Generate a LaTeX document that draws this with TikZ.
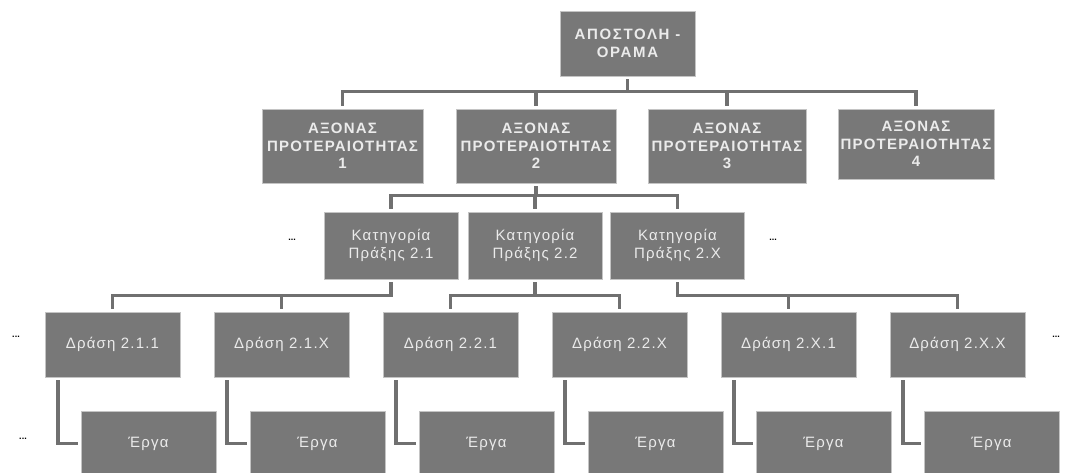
\documentclass[tikz,border=0pt]{standalone}
\usepackage{fontspec}
\setmainfont{Liberation Sans}
\newfontfamily\regfont[LetterSpace=8]{Liberation Sans}
\newfontfamily\axfont[LetterSpace=8]{Liberation Sans Bold}
\newfontfamily\topfont[LetterSpace=11]{Liberation Sans Bold}
\definecolor{boxfill}{HTML}{787878}
\definecolor{boxline}{HTML}{C4C4C4}
\definecolor{conn}{HTML}{707070}
\definecolor{txt}{HTML}{EBEBEB}
\begin{document}
\begin{tikzpicture}[x=1pt,y=-1pt,
  gbox/.style={draw=boxline,line width=0.6pt,fill=boxfill,text=txt,inner sep=0pt,align=center,font=\regfont\fontsize{15}{17.5}\selectfont},
  topbox/.style={gbox,font=\topfont\fontsize{15}{18}\selectfont},
  axbox/.style={gbox,font=\axfont\fontsize{15}{17.5}\selectfont},
  catbox/.style={gbox,minimum width=134pt,minimum height=67pt},
  actbox/.style={gbox,minimum width=135pt,minimum height=65pt},
  projbox/.style={gbox,minimum width=135pt,minimum height=65pt},
  link/.style={draw=conn,line width=3.6pt,shorten <=3pt,shorten >=3pt},
  dots/.style={font=\fontsize{9}{9}\selectfont\bfseries,text=black,inner sep=0pt}]
\useasboundingbox (0,0) rectangle (1081,472);
\fill[white] (0,0) rectangle (1081,472);
% level 1
\node[topbox,minimum width=135pt,minimum height=65pt] (top) at (627.5,43.5) {ΑΠΟΣΤΟΛΗ -\\ΟΡΑΜΑ};
% level 2
\node[axbox,minimum width=161pt,minimum height=74pt] (a1) at (342.5,146) {ΑΞΟΝΑΣ\\ΠΡΟΤΕΡΑΙΟΤΗΤΑΣ\\1};
\node[axbox,minimum width=160pt,minimum height=74pt] (a2) at (536,146) {ΑΞΟΝΑΣ\\ΠΡΟΤΕΡΑΙΟΤΗΤΑΣ\\2};
\node[axbox,minimum width=158pt,minimum height=74pt] (a3) at (727,146) {ΑΞΟΝΑΣ\\ΠΡΟΤΕΡΑΙΟΤΗΤΑΣ\\3};
\node[axbox,minimum width=156pt,minimum height=70pt] (a4) at (916,144) {ΑΞΟΝΑΣ\\ΠΡΟΤΕΡΑΙΟΤΗΤΑΣ\\4};
% level 3
\node[catbox] (c1) at (391,245.5) {Κατηγορία\\Πράξης 2.1};
\node[catbox] (c2) at (535,245.5) {Κατηγορία\\Πράξης 2.2};
\node[catbox] (c3) at (677.5,245.5) {Κατηγορία\\Πράξης 2.Χ};
\node[dots] (d1) at (292,240) {...};
\node[dots] (d2) at (773,240) {...};
% level 4
\node[actbox] (r1) at (112.5,344.5) {Δράση 2.1.1};
\node[actbox] (r2) at (281.5,344.5) {Δράση 2.1.Χ};
\node[actbox] (r3) at (450.5,344.5) {Δράση 2.2.1};
\node[actbox] (r4) at (619.5,344.5) {Δράση 2.2.Χ};
\node[actbox] (r5) at (788.5,344.5) {Δράση 2.Χ.1};
\node[actbox] (r6) at (957.5,344.5) {Δράση 2.Χ.Χ};
\node[dots] (d3) at (16,337) {...};
\node[dots] (d4) at (1056,337) {...};
% level 5
\node[projbox] (p1) at (148.5,443.5) {Έργα};
\node[projbox] (p2) at (317.5,443.5) {Έργα};
\node[projbox] (p3) at (486.5,443.5) {Έργα};
\node[projbox] (p4) at (655.5,443.5) {Έργα};
\node[projbox] (p5) at (823.5,443.5) {Έργα};
\node[projbox] (p6) at (991.5,443.5) {Έργα};
\node[dots] (d5) at (23,439) {...};
% connectors level 1 -> 2
\foreach \c in {a1,a2,a3,a4}
  \draw[link] (top.south) -- ++(0,15) -| (\c.north);
% level 2 -> 3
\foreach \c in {c1,c2,c3}
  \draw[link] (a2.south) -- ++(0,12) -| (\c.north);
% level 3 -> 4
\foreach \p/\c in {c1/r1,c1/r2,c2/r3,c2/r4,c3/r5,c3/r6}
  \draw[link] (\p.south) -- ++(0,16) -| (\c.north);
% level 4 -> 5
\foreach \p/\c in {r1/p1,r2/p2,r3/p3,r4/p4,r5/p5,r6/p6}
  \draw[link] ([xshift=13pt]\p.south west) |- (\c.west);
\end{tikzpicture}
\end{document}
